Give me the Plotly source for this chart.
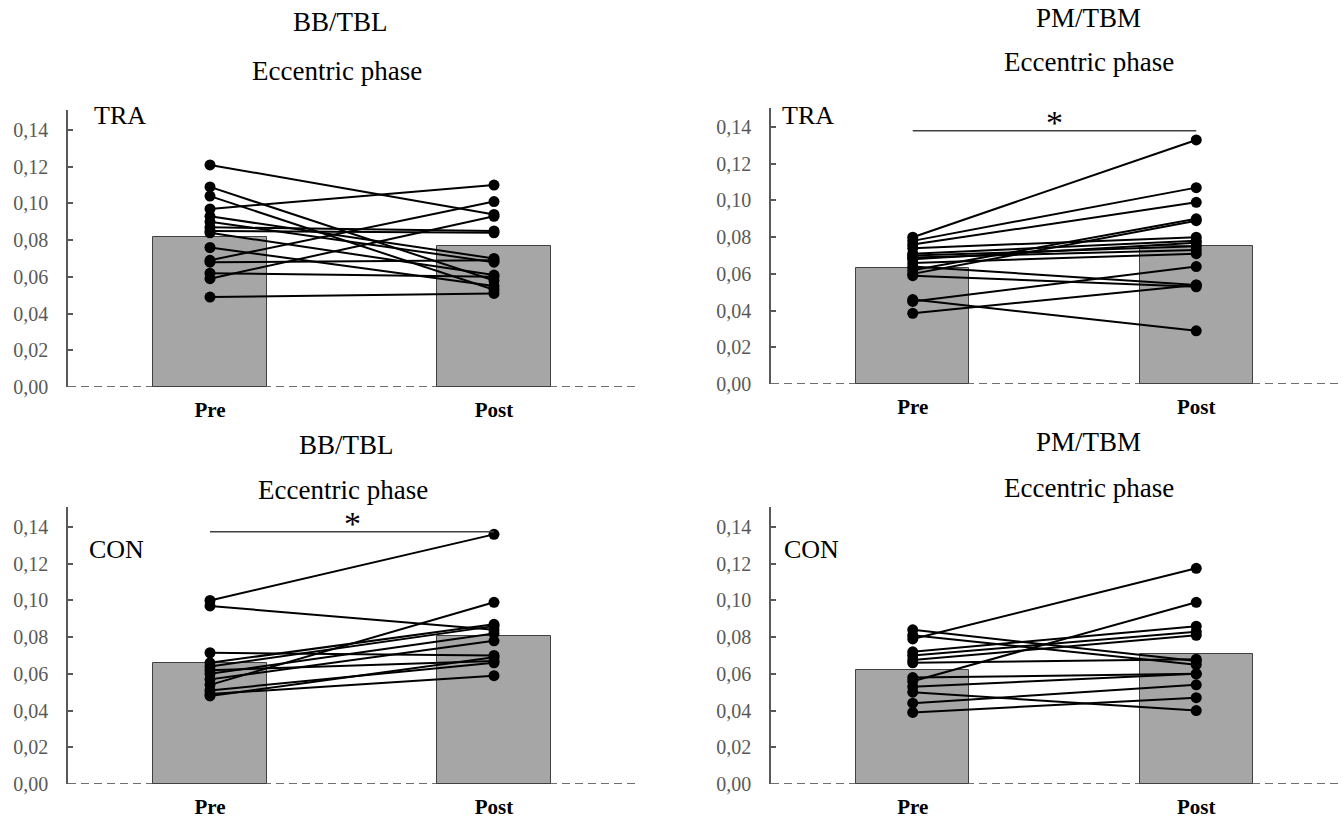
import plotly.graph_objects as go

W, H = 1343, 824

categories = ["Pre", "Post"]
y_ticks = [0.00, 0.02, 0.04, 0.06, 0.08, 0.10, 0.12, 0.14]

# Panel A: BB/TBL, TRA
bar_tl = [0.0815, 0.0770]
pre_tl = [0.121, 0.109, 0.104, 0.097, 0.093, 0.090, 0.087, 0.085, 0.084, 0.076, 0.069, 0.068, 0.062, 0.059, 0.049]
post_tl = [0.094, 0.058, 0.053, 0.110, 0.070, 0.068, 0.085, 0.084, 0.061, 0.055, 0.101, 0.069, 0.060, 0.093, 0.051]

# Panel B: PM/TBM, TRA
bar_tr = [0.0634, 0.0753]
pre_tr = [0.080, 0.078, 0.076, 0.074, 0.071, 0.070, 0.069, 0.068, 0.066, 0.064, 0.062, 0.060, 0.059, 0.046, 0.045, 0.0385]
post_tr = [0.133, 0.107, 0.099, 0.080, 0.078, 0.075, 0.073, 0.077, 0.071, 0.054, 0.090, 0.089, 0.053, 0.029, 0.064, 0.054]

# Panel C: BB/TBL, CON
bar_bl = [0.0657, 0.0806]
pre_bl = [0.100, 0.097, 0.0715, 0.066, 0.064, 0.062, 0.060, 0.057, 0.054, 0.051, 0.049, 0.048]
post_bl = [0.136, 0.084, 0.070, 0.087, 0.086, 0.067, 0.082, 0.078, 0.099, 0.066, 0.059, 0.069]

# Panel D: PM/TBM, CON
bar_br = [0.0621, 0.0708]
pre_br = [0.084, 0.081, 0.079, 0.072, 0.070, 0.0675, 0.066, 0.058, 0.056, 0.053, 0.050, 0.044, 0.039]
post_br = [0.067, 0.065, 0.1175, 0.086, 0.083, 0.081, 0.068, 0.060, 0.099, 0.060, 0.040, 0.054, 0.047]

panels = [
    dict(bar=bar_tl, pre=pre_tl, post=post_tl, title="BB/TBL", group="TRA", sig=None,
         px=(68, 636), py=(110, 387), ymax=0.1509, t1=(340, 22), t2=(337, 71), g=(120, 116)),
    dict(bar=bar_tr, pre=pre_tr, post=post_tr, title="PM/TBM", group="TRA", sig=0.138,
         px=(771, 1338), py=(108, 384), ymax=0.1504, t1=(1088, 18), t2=(1089, 62), g=(808, 116)),
    dict(bar=bar_bl, pre=pre_bl, post=post_bl, title="BB/TBL", group="CON", sig=0.1374,
         px=(68, 636), py=(507, 784), ymax=0.1509, t1=(346, 445), t2=(343, 490), g=(117, 549)),
    dict(bar=bar_br, pre=pre_br, post=post_br, title="PM/TBM", group="CON", sig=None,
         px=(771, 1338), py=(507, 784), ymax=0.1509, t1=(1088, 442), t2=(1089, 488), g=(811, 549)),
]

FONT = "Liberation Serif"
fig = go.Figure()
shapes = []
annotations = []

for i, p in enumerate(panels, start=1):
    xa = "x" if i == 1 else f"x{i}"
    ya = "y" if i == 1 else f"y{i}"
    xk = "xaxis" if i == 1 else f"xaxis{i}"
    yk = "yaxis" if i == 1 else f"yaxis{i}"

    fig.add_trace(go.Bar(
        x=[0, 1], y=p["bar"], width=0.4,
        marker=dict(color="#a6a6a6", line=dict(color="#404040", width=1)),
        xaxis=xa, yaxis=ya, showlegend=False, hoverinfo="skip"))

    lx, ly = [], []
    for a, b in zip(p["pre"], p["post"]):
        lx += [0, 1, None]
        ly += [a, b, None]
    fig.add_trace(go.Scatter(
        x=lx, y=ly, mode="lines+markers",
        line=dict(color="black", width=2),
        marker=dict(color="black", size=11),
        xaxis=xa, yaxis=ya, showlegend=False, connectgaps=False))

    fig.layout[xk] = dict(
        domain=[p["px"][0] / W, p["px"][1] / W],
        range=[-0.5, 1.5], anchor=ya, showline=False, showgrid=False, zeroline=False,
        tickvals=[0, 1], ticktext=categories, ticks="",
        tickfont=dict(family=FONT, size=21, color="black", weight="bold"),
        ticklabelstandoff=8, fixedrange=True)
    fig.layout[yk] = dict(
        domain=[1 - p["py"][1] / H, 1 - p["py"][0] / H],
        range=[0, p["ymax"]], anchor=xa, showline=True, linecolor="#595959", linewidth=1.5,
        showgrid=False, zeroline=False, tickvals=y_ticks, tickformat=".2f",
        ticks="inside", ticklen=5, tickcolor="#595959", tickwidth=1.5,
        tickfont=dict(family=FONT, size=20, color="#595959"),
        ticklabelstandoff=14, fixedrange=True)

    shapes.append(dict(type="line", xref=f"{xa} domain", yref=ya, x0=0, x1=1, y0=0, y1=0,
                       line=dict(color="#404040", width=1.5, dash="8px,5px"), layer="below"))
    if p["sig"] is not None:
        shapes.append(dict(type="line", xref=xa, yref=ya, x0=0, x1=1, y0=p["sig"], y1=p["sig"],
                           line=dict(color="#404040", width=1.5)))
        annotations.append(dict(x=0.5, y=p["sig"], xref=xa, yref=ya, text="*", showarrow=False,
                                yanchor="bottom", yshift=-12,
                                font=dict(family=FONT, size=34, color="black")))

    for (cx, cy), txt, sz in [(p["t1"], p["title"], 27), (p["t2"], "Eccentric phase", 27),
                              (p["g"], p["group"], 26)]:
        annotations.append(dict(x=cx / W, y=1 - cy / H, xref="paper", yref="paper", text=txt,
                                showarrow=False, xanchor="center", yanchor="middle",
                                font=dict(family=FONT, size=sz, color="black")))

fig.update_layout(
    width=W, height=H,
    margin=dict(l=0, r=0, t=0, b=0, autoexpand=False),
    paper_bgcolor="white", plot_bgcolor="white",
    separators=",.",
    shapes=shapes, annotations=annotations,
    bargap=0,
)

fig.write_html("out.html", config={"displayModeBar": False},
               post_script="document.body.style.margin='0';document.body.style.overflow='hidden';")
